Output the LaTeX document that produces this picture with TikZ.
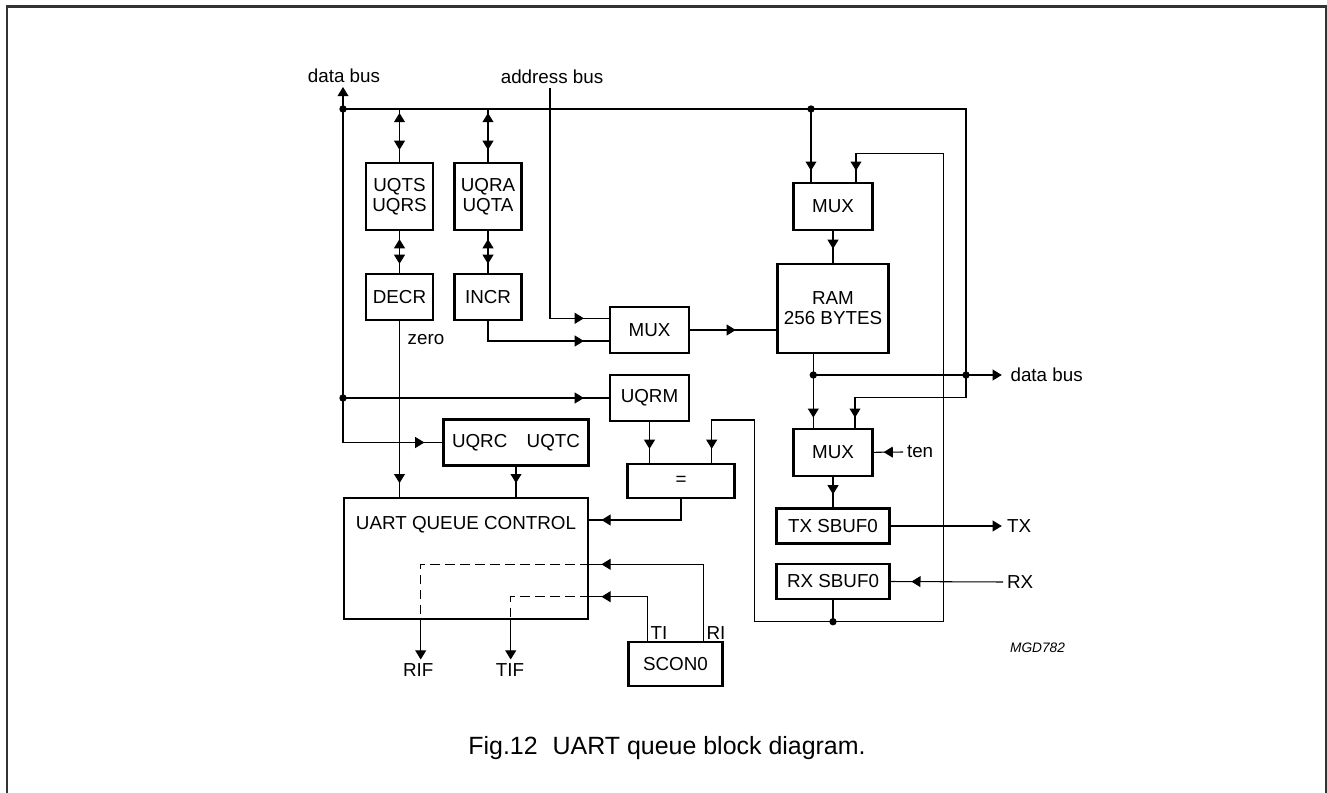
\documentclass[tikz,border=0pt]{standalone}
\usepackage{fontspec}
\setmainfont{Liberation Sans}
\usetikzlibrary{arrows.meta,decorations.markings}
\newcommand{\lbfont}{\fontsize{10.7}{11.4}\selectfont}
\tikzset{>={Triangle[length=5.2pt,width=6.2pt]},
	blk/.style={draw,line width=1.3pt,inner sep=0pt,align=center,font=\lbfont},
	sz/.style 2 args={minimum width=#1*0.02cm,minimum height=#2*0.02cm},
	lbl/.style={inner sep=2pt,font=\lbfont},
	arr/.style={postaction={decorate,decoration={markings,mark=at position -#1*0.02cm with {\arrow{>}}}}},
	rarr/.style={postaction={decorate,decoration={markings,mark=at position #1*0.02cm with {\arrowreversed{>}}}}},
	dsh/.style={dash pattern=on 5.5pt off 3pt}}

\begin{document}
\begin{tikzpicture}[x=0.02cm,y=-0.02cm,line width=0.6pt]
  \useasboundingbox (0,0) rectangle (1327,793);
  \draw[line width=1.2pt,black!80] (7,793) -- (7,6.5) -- (1326,6.5) -- (1326,793);
  % blocks
  \node[blk,sz={67}{67}] (uqts) at (399.5,196.5) {UQTS\\UQRS};
  \node[blk,sz={67}{67}] (uqra) at (488,196.5) {UQRA\\UQTA};
  \node[blk,sz={67}{46}] (decr) at (399.5,297) {DECR};
  \node[blk,sz={67}{46}] (incr) at (488,297) {INCR};
  \node[blk,sz={79}{46}] (mux1) at (649.5,330) {MUX};
  \node[blk,sz={79}{47}] (muxt) at (833,206.3) {MUX};
  \node[blk,sz={111}{89}] (ram) at (833,308.5) {RAM\\256 BYTES};
  \node[blk,sz={79}{46}] (uqrm) at (649.5,398) {UQRM};
  \node[blk,sz={145}{46}] (uqrc) at (516,442.5) {UQRC\hspace{11pt}UQTC};
  \node[blk,sz={107}{34}] (eq) at (681,481) {=};
  \node[blk,sz={244}{121}] (uqc) at (466.3,558.8) {};
  \node[lbl] (uqct) at (466,525) {UART QUEUE CONTROL};
  \node[blk,sz={79}{47}] (muxb) at (833,452.3) {MUX};
  \node[blk,sz={113}{35}] (txs) at (833,526) {TX SBUF0};
  \node[blk,sz={113}{35}] (rxs) at (833,581.5) {RX SBUF0};
  \node[blk,sz={94}{44}] (scon) at (675.5,664) {SCON0};
  % labels
  \node[lbl,anchor=south] (dbl) at (344,87) {data bus};
  \node[lbl,anchor=south] (abl) at (552,88) {address bus};
  \node[lbl,anchor=west] (dbr) at (1006.5,375) {data bus};
  \node[lbl,anchor=west] (ten) at (903,452) {ten};
  \node[lbl,anchor=west] (txl) at (1003,526) {TX};
  \node[lbl,anchor=west] (rxl) at (1003,582) {RX};
  \node[lbl] (zero) at (426,340) {zero};
  \node[lbl] (til) at (659,633) {TI};
  \node[lbl] (ril) at (716,633) {RI};
  \node[lbl,anchor=north] (rif) at (418.3,659.5) {RIF};
  \node[lbl,anchor=north] (tif) at (510,659.5) {TIF};
  \node[font=\fontsize{7.8}{9}\selectfont\itshape] (mgd) at (1037.5,647.5) {MGD782};
  \node[font=\fontsize{14.2}{16}\selectfont] (cap) at (667,748) {Fig.12\hspace{0.6em}UART queue block diagram.};
  % junctions
  \coordinate (dl) at (343,109);
  \coordinate (dt) at (811,109);
  \coordinate (dc) at (966,109);
  \coordinate (dm) at (343,398);
  \coordinate (dr) at (813.3,375);
  \coordinate (de) at (966,375);
  \coordinate (dx) at (833,621.7);
  % data bus
  \draw[->] (dl) -- (dl |- dbl.south);
  \draw[arr=18] (dl) |- (uqrc.west);
  \draw (dl) -- (dc) -- (de);
  \draw[arr=10] (de) -- (966,397.7) -| (855,0 |- muxb.north);
  \draw[arr=11] (dt) -- (dt |- muxt.north);
  \draw[arr=25] (dm) -- (uqrm.west);
  % status registers
  \draw[rarr=4,arr=12] (uqts.north |- dl) -- (uqts.north);
  \draw[rarr=4,arr=12] (uqra.north |- dl) -- (uqra.north);
  \draw[rarr=8,arr=9] (uqts.south) -- (decr.north);
  \draw[rarr=8,arr=9] (uqra.south) -- (incr.north);
  \draw[arr=14] (decr.south) -- (decr.south |- uqc.north);
  \draw[arr=25] (incr.south) |- (mux1.west |- 0,341);
  \draw[arr=25] (abl.south -| 550,0) |- (mux1.west |- 0,318.3);
  \draw[arr=40.6] (mux1.east) -- (mux1.east -| ram.west);
  % ram path
  \draw[arr=14] (muxt.south) -- (ram.north);
  \draw (ram.south -| dr) -- (dr);
  \draw[->,shorten >=2.7pt] (dr) -- (dbr.west);
  \draw[arr=10] (dr) -- (dr |- muxb.north);
  \draw[arr=10] (ten.west) -- (muxb.east);
  \draw[arr=13] (muxb.south) -- (txs.north);
  \draw[->,shorten >=0.7pt] (txs.east) -- (txl.west);
  \draw[arr=20.7] (rxl.west) -- (rxs.east);
  \draw (rxs.south) -- (dx);
  \draw[arr=14] (dx) -| (754.3,420) -| (eq.north -| 711.7,0);
  \draw[arr=11] (dx) -| (943.3,153.3) -| (muxt.north -| 856,0);
  % compare and control
  \draw[arr=14] (uqrm.south) -- (uqrm.south |- eq.north);
  \draw[arr=12] (eq.south) |- (uqc.east |- 0,520);
  \draw[arr=14] (uqrc.south) -- (uqrc.south |- uqc.north);
  \draw[arr=12] (scon.north -| 703.3,0) |- (uqc.east |- 0,564.3);
  \draw[dsh] (uqc.east |- 0,564.3) -| (uqc.south -| 420.7,0);
  \draw[->] (uqc.south -| 420.7,0) -- (420.7,0 |- rif.north);
  \draw[arr=12] (scon.north -| 647.7,0) |- (uqc.east |- 0,596.7);
  \draw[dsh] (uqc.east |- 0,596.7) -| (uqc.south -| 510.7,0);
  \draw[->] (uqc.south -| 510.7,0) -- (510.7,0 |- tif.north);
  \foreach \p in {dl,dt,dm,dr,de,dx}
    \fill (\p) circle (2.1pt);
\end{tikzpicture}
\end{document}
